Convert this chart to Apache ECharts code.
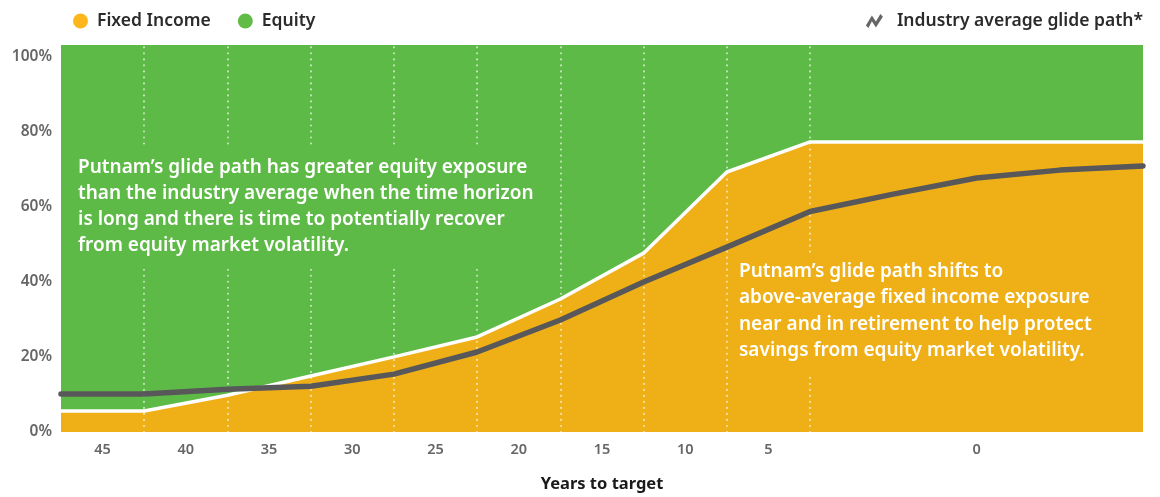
<!DOCTYPE html>
<html>
<head>
<meta charset="utf-8">
<script src="https://cdn.jsdelivr.net/npm/echarts@6/dist/echarts.min.js"></script>
<style>
  html, body { margin: 0; padding: 0; background: #fff; }
  #chart { width: 1160px; height: 497px; }
</style>
</head>
<body>
<div id="chart"></div>
<script>
// step index along the path (the right part after "5" is compressed)
const steps = ['0', '1', '2', '3', '4', '5', '6', '7', '8', '9', '10', '11', '12', '13'];
// Putnam fixed income share (%)
const fixedIncome = [5.6, 5.6, 9.8, 14.9, 20.0, 25.3, 35.4, 47.6, 69.2, 77.2, 77.2, 77.2, 77.2, 77.2];
// Putnam equity share (%)
const equity = [94.4, 94.4, 90.2, 85.1, 80.0, 74.7, 64.6, 52.4, 30.8, 22.8, 22.8, 22.8, 22.8, 22.8];
// industry average glide path (% fixed income)
const industryAvg = [10.1, 10.1, 11.4, 12.2, 15.4, 21.3, 29.8, 39.9, 49.2, 58.7, 63.3, 67.6, 69.7, 70.8];
// x tick labels: years to target, and where they sit on the step scale
const yearLabels = ['45', '40', '35', '30', '25', '20', '15', '10', '5', '0'];
const yearLabelSteps = [0.5, 1.5, 2.5, 3.5, 4.5, 5.5, 6.5, 7.5, 8.5, 11];
// dotted five-year dividers (step indexes)
const dividerSteps = [1, 2, 3, 4, 5, 6, 7, 8, 9];
const yTicks = [0, 20, 40, 60, 80, 100];

const ORANGE = '#EFAF16';
const GREEN = '#5EBA47';
const GREY = '#58585A';
const FONT = '"Noto Sans", "Open Sans", sans-serif';

const labelMap = {};
yearLabelSteps.forEach((s, i) => { labelMap[s] = yearLabels[i]; });

const leftNote = [
  'Putnam\u2019s glide path has greater equity exposure',
  'than the industry average when the time horizon',
  'is long and there is time to potentially recover',
  'from equity market volatility.'
].join('\n');
const rightNote = [
  'Putnam\u2019s glide path shifts to',
  'above-average fixed income exposure',
  'near and in retirement to help protect',
  'savings from equity market volatility.'
].join('\n');

const option = {
  animation: false,
  textStyle: { fontFamily: FONT },
  legend: [
    {
      left: 68,
      top: 7,
      icon: 'circle',
      itemWidth: 15,
      itemHeight: 15,
      itemGap: 27,
      textStyle: { fontSize: 17.5, fontWeight: 600, color: '#2b2b2b', padding: [0, 0, 0, 4] },
      data: [
        { name: 'Fixed Income', itemStyle: { color: '#FDB71A' } },
        { name: 'Equity', itemStyle: { color: '#62BB46' } }
      ]
    },
    {
      right: 12,
      top: 7,
      itemWidth: 17,
      itemHeight: 14,
      textStyle: { fontSize: 17.5, fontWeight: 600, color: '#2b2b2b', padding: [0, 0, 0, 9] },
      data: [
        {
          name: 'Industry average glide path*',
          icon: 'path://M0,11.5 L6,1.5 L10,7.5 L14.5,0 L17,2.8 L10,13.5 L6,7.2 L2.6,14 Z',
          itemStyle: { color: '#666' }
        }
      ]
    }
  ],
  grid: {
    left: 61,
    right: 17,
    top: 45,
    bottom: 65,
    outerBoundsMode: 'none',
    containLabel: false,
    show: true,
    backgroundColor: GREEN,
    borderWidth: 0
  },
  xAxis: [
    {
      type: 'category',
      data: steps,
      boundaryGap: false,
      show: false
    },
    {
      type: 'value',
      position: 'bottom',
      min: 0,
      max: 13,
      interval: 0.5,
      name: 'Years to target',
      nameLocation: 'middle',
      nameGap: 44,
      nameTextStyle: { fontSize: 16.5, fontWeight: 700, color: '#1a1a1a', fontFamily: FONT },
      axisLine: { show: false },
      axisTick: { show: false },
      splitLine: { show: false },
      axisLabel: {
        margin: 10,
        fontSize: 14.5,
        fontWeight: 600,
        color: '#666',
        showMinLabel: true,
        showMaxLabel: true,
        formatter: (v) => labelMap[v] || ''
      }
    }
  ],
  yAxis: {
    type: 'value',
    min: 0,
    max: 103,
    interval: 20,
    axisLine: { show: false },
    axisTick: { show: false },
    splitLine: { show: false },
    axisLabel: {
      margin: 9,
      fontSize: 15.5,
      fontWeight: 600,
      color: '#666',
      showMaxLabel: false,
      padding: [0, 0, 7, 0],
      formatter: (v) => (yTicks.indexOf(v) >= 0 ? v + '%' : '')
    }
  },
  series: [
    {
      name: 'Fixed Income',
      type: 'line',
      stack: 'mix',
      data: fixedIncome,
      showSymbol: false,
      z: 2,
      lineStyle: { width: 0 },
      itemStyle: { color: ORANGE },
      areaStyle: { color: ORANGE, opacity: 1 }
    },
    {
      name: 'Equity',
      type: 'line',
      stack: 'mix',
      data: equity,
      showSymbol: false,
      z: 2,
      lineStyle: { width: 0 },
      itemStyle: { color: GREEN },
      areaStyle: { color: GREEN, opacity: 1 },
      markLine: {
        silent: true,
        symbol: 'none',
        label: { show: false },
        lineStyle: { color: 'rgba(255,255,255,0.6)', width: 2.2, type: [0.01, 6], cap: 'round' },
        data: dividerSteps.map((s) => ({ xAxis: s }))
      }
    },
    {
      name: 'Putnam glide path',
      type: 'line',
      data: fixedIncome,
      showSymbol: false,
      z: 4,
      lineStyle: { color: '#fff', width: 3.5 },
      itemStyle: { color: '#fff' }
    },
    {
      name: 'Industry average glide path*',
      type: 'line',
      data: industryAvg,
      showSymbol: false,
      z: 5,
      lineStyle: { color: GREY, width: 5.5, cap: 'round', join: 'round' },
      itemStyle: { color: GREY }
    }
  ],
  graphic: [
    {
      type: 'text',
      left: 70,
      top: 148,
      z: 100,
      style: {
        text: leftNote,
        fill: '#fff',
        font: '600 19px ' + FONT,
        lineHeight: 26,
        backgroundColor: GREEN,
        padding: [7, 10, 10, 8]
      }
    },
    {
      type: 'text',
      left: 731,
      top: 256,
      z: 100,
      style: {
        text: rightNote,
        fill: '#fff',
        font: '600 19px ' + FONT,
        lineHeight: 26.5,
        backgroundColor: ORANGE,
        padding: [2, 8, 9, 8]
      }
    }
  ]
};

const chart = echarts.init(document.getElementById('chart'));
chart.setOption(option);
</script>
</body>
</html>
